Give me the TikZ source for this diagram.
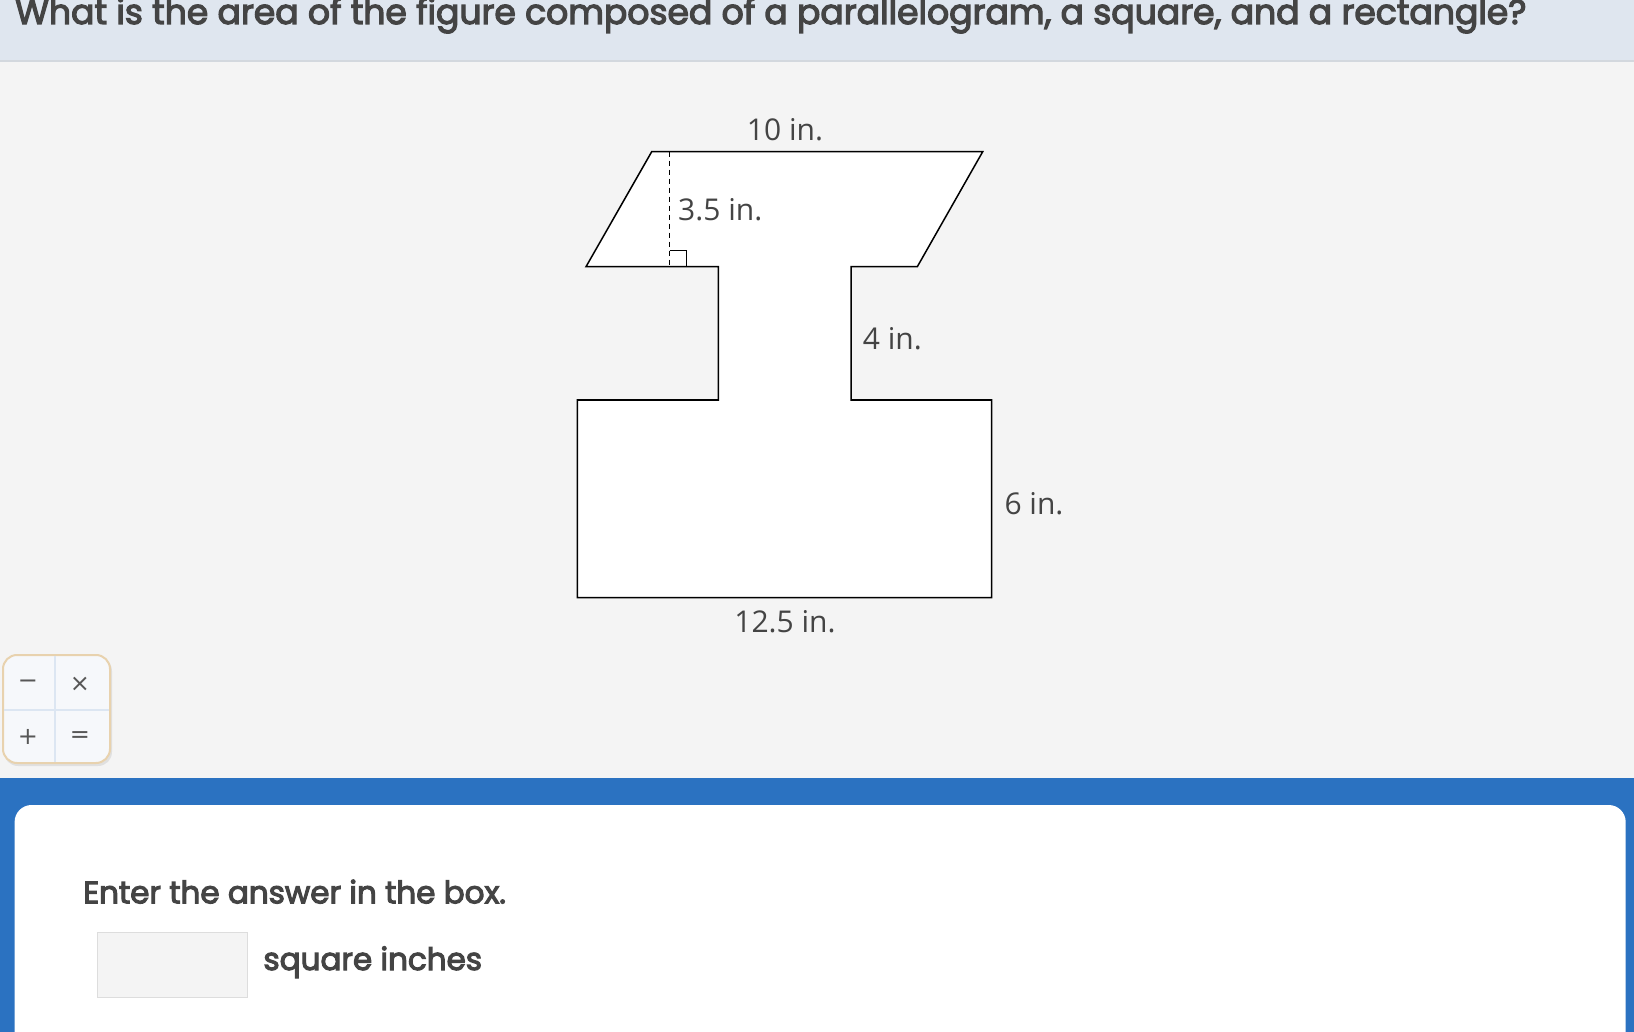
\documentclass[tikz,border=0pt]{standalone}
\usepackage{fontspec}
\newfontfamily\popfont[FakeBold=3.5]{Poppins}
\newfontfamily\opsfont{Open Sans}
\newfontfamily\symfont{DejaVu Sans}
\definecolor{hdr}{HTML}{DFE6EF}
\definecolor{hdrline}{HTML}{D3D8DE}
\definecolor{midbg}{HTML}{F4F4F4}
\definecolor{txt}{HTML}{444444}
\definecolor{bluebar}{HTML}{2B72C1}
\definecolor{calcborder}{HTML}{E8D2AE}
\definecolor{calcfill}{HTML}{F6F8FB}
\definecolor{calcdiv}{HTML}{DCE6F2}
\definecolor{boxfill}{HTML}{F4F4F4}
\definecolor{boxline}{HTML}{DDDDDD}
\tikzset{
  shapeline/.style={draw=black, line width=1.5pt, fill=white, line join=miter},
  dimlabel/.style={font=\opsfont\fontsize{30}{30}\selectfont, text=txt, inner sep=0pt},
  poptext/.style={font=\popfont\fontsize{31}{31}\selectfont, text=txt, inner sep=0pt},
  titletext/.style={font=\popfont\fontsize{34.6}{34.6}\selectfont, text=txt, inner sep=0pt},
  calcsym/.style={font=\symfont\fontsize{24}{24}\selectfont, text=txt!90, inner sep=0pt}
}
\begin{document}
\begin{tikzpicture}[x=1pt,y=-1pt]
\useasboundingbox (0,0) rectangle (1634,1032);
% backgrounds
\fill[midbg] (0,0) rectangle (1634,1032);
\fill[hdr] (0,0) rectangle (1634,60);
\fill[hdrline] (0,60) rectangle (1634,62);
\node[titletext, anchor=base west] (title) at (15,24) {What is the area of the figure composed of a parallelogram, a square, and a rectangle?};

% figure
\draw[shapeline] (651.7,151.7) -- (982.7,151.7) -- (917.3,266.7) -- (851,266.7) -- (851,400) -- (991.7,400) -- (991.7,597.7) -- (577.3,597.7) -- (577.3,400) -- (718.3,400) -- (718.3,266.7) -- (586,266.7) -- cycle;
\draw[line width=1.5pt, dash pattern=on 5pt off 4pt] (669.7,151.7) -- (669.7,266.7);
\draw[line width=1.5pt] (669.7,250.7) -- (686.7,250.7) -- (686.7,266.7);

\node[dimlabel, anchor=base] (l10) at (785,140.7) {10 in.};
\node[dimlabel, anchor=base west] (l35) at (678,220.7) {3.5 in.};
\node[dimlabel, anchor=base west] (l4) at (862.7,349.3) {4 in.};
\node[dimlabel, anchor=base west] (l6) at (1004.3,514.3) {6 in.};
\node[dimlabel, anchor=base] (l125) at (785,632.7) {12.5 in.};

% calculator widget
\fill[black, opacity=0.08, rounded corners=14pt] (4,657) rectangle (112,766);
\draw[calcborder, line width=2pt, fill=calcfill, rounded corners=14pt] (3,655) rectangle (110,763);
\draw[calcdiv, line width=1.5pt] (55,656) -- (55,762);
\draw[calcdiv, line width=1.5pt] (4,710) -- (109,710);
\node[calcsym] (cminus) at (28,684) {−};
\node[calcsym] (ctimes) at (80,684) {×};
\node[calcsym] (cplus) at (28,737) {+};
\node[calcsym] (cequal) at (80,737) {=};

% answer panel
\fill[bluebar] (0,777.7) rectangle (1634,1032);
\fill[white, rounded corners=17pt] (14.6,1060) -- (14.6,805) -- (1625.7,805) -- (1625.7,1060) -- cycle;
\node[poptext, anchor=base west] (enter) at (83,903.3) {Enter the answer in the box.};
\draw[boxline, line width=1.5pt, fill=boxfill] (97.3,932.7) rectangle (247.3,997.3);
\node[poptext, anchor=base west] (unit) at (263.3,970) {square inches};
\end{tikzpicture}
\end{document}
